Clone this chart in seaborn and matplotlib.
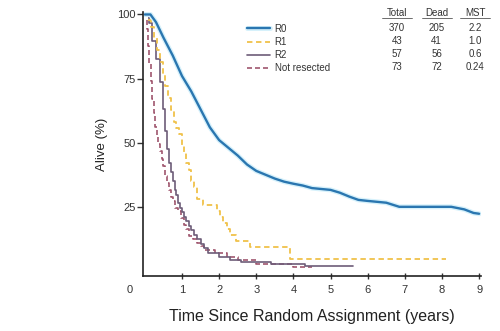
import numpy as np
import pandas as pd
import matplotlib
matplotlib.use("Agg")
import matplotlib.pyplot as plt
import matplotlib.patheffects as pe
import seaborn as sns

# Survival estimates (years, % alive) per resection group
r0_t = [0, 0.15, 0.3, 0.5, 0.75, 1.0, 1.25, 1.5, 1.75, 2.0, 2.25, 2.5, 2.75, 3.0,
        3.25, 3.5, 3.75, 4.0, 4.25, 4.5, 5.0, 5.25, 5.5, 5.75, 6.0, 6.5, 6.85,
        7.5, 8.25, 8.6, 8.85, 9.0]
r0_v = [100, 100, 97, 91, 84, 76, 70, 63, 56, 51, 48, 45, 41.5, 39,
        37.5, 36, 34.8, 34, 33.3, 32.3, 31.6, 30.5, 29, 27.7, 27.3, 26.6, 25,
        25, 25, 24, 22.6, 22.3]

r1_t = [0, 0.08, 0.16, 0.25, 0.33, 0.4, 0.48, 0.55, 0.63, 0.7, 0.78, 0.85, 0.92,
        1.0, 1.05, 1.1, 1.18, 1.25, 1.32, 1.4, 1.56, 1.94, 2.02, 2.1, 2.2,
        2.28, 2.45, 2.55, 2.82, 3.09, 3.9, 8.1]
r1_v = [100, 97.7, 95.3, 90.7, 86.0, 81.4, 76.7, 72.1, 67.4, 62.8, 58.1, 55.8, 53.5,
        48.8, 46.5, 41.9, 39.5, 34.9, 32.6, 27.9, 25.6, 23.3, 20.9, 18.6, 16.3,
        14.0, 11.6, 11.6, 9.3, 9.3, 4.65, 4.65]

r2_t = [0, 0.1, 0.2, 0.3, 0.4, 0.5, 0.55, 0.6, 0.65, 0.7, 0.75, 0.8, 0.85, 0.9,
        0.95, 1.0, 1.05, 1.1, 1.18, 1.25, 1.32, 1.4, 1.5, 1.6, 1.7, 1.8, 2.0,
        2.3, 2.6, 3.0, 3.4, 4.3, 5.6]
r2_v = [100, 96.5, 89.5, 82.5, 73.7, 63.2, 54.4, 47.4, 42.1, 38.6, 35.1, 31.6, 29.8, 26.3,
        24.6, 22.8, 21.1, 19.3, 17.5, 15.8, 14.0, 12.3, 10.5, 8.8, 7.0, 7.0, 5.3,
        4.4, 3.5, 3.5, 2.6, 1.75, 1.75]

nr_t = [0, 0.05, 0.09, 0.12, 0.16, 0.2, 0.24, 0.28, 0.32, 0.35, 0.4, 0.45, 0.5, 0.55,
        0.6, 0.65, 0.7, 0.75, 0.82, 0.9, 0.97, 1.05, 1.12, 1.2, 1.3, 1.4, 1.5,
        1.6, 1.9, 2.2, 2.5, 3.0, 3.6, 4.0, 4.5]
nr_v = [100, 94.5, 87.7, 80.8, 74.0, 67.1, 61.6, 56.2, 52.1, 49.3, 46.6, 43.8, 41.1, 37.0,
        34.2, 31.5, 28.8, 27.4, 24.7, 23.3, 20.5, 17.8, 16.4, 13.7, 12.3, 11.0, 9.6,
        8.2, 6.8, 5.5, 4.1, 2.7, 2.7, 1.4, 1.4]

groups = ["R0", "R1", "R2", "Not resected"]
totals = [370, 43, 57, 73]
deaths = [205, 41, 56, 72]
mst = ["2.2", "1.0", "0.6", "0.24"]

x_ticks = [1, 2, 3, 4, 5, 6, 7, 8, 9]
y_ticks = [25, 50, 75, 100]

series = {
    "R0": (r0_t, r0_v),
    "R1": (r1_t, r1_v),
    "R2": (r2_t, r2_v),
    "Not resected": (nr_t, nr_v),
}
df = pd.concat(
    [pd.DataFrame({"years": t, "alive": v, "group": g}) for g, (t, v) in series.items()],
    ignore_index=True,
)

styles = {
    "R0": dict(color="#2a76b0", lw=1.7, dashes=None, steps=False),
    "R1": dict(color="#f0c24a", lw=1.3, dashes=(3, 2), steps=True),
    "R2": dict(color="#6d5c78", lw=1.2, dashes=None, steps=True),
    "Not resected": dict(color="#a0566e", lw=1.2, dashes=(3, 1.8), steps=True),
}

sns.set_style("ticks")
plt.rcParams["font.family"] = ["Liberation Sans", "DejaVu Sans"]

fig = plt.figure(figsize=(5.0, 3.31), dpi=100)
ax = fig.add_axes([0.286, 0.166, 0.676, 0.798])

# draw the lower curves first so R0 sits on top
for g in ["Not resected", "R2", "R1", "R0"]:
    st = styles[g]
    kw = dict(color=st["color"], linewidth=st["lw"])
    if st["steps"]:
        kw["drawstyle"] = "steps-post"
    if st["dashes"] is not None:
        kw["dashes"] = st["dashes"]
    sns.lineplot(data=df[df["group"] == g], x="years", y="alive", ax=ax,
                 estimator=None, sort=False, label=g, **kw)
    if g == "R0":
        ax.lines[-1].set_path_effects(
            [pe.Stroke(linewidth=3.6, foreground="#d6f1fb"), pe.Normal()])

ax.set_xlim(-0.05, 9.05)
ax.set_ylim(-2, 101)
ax.set_xticks(x_ticks)
ax.set_yticks(y_ticks)
ax.tick_params(axis="x", direction="inout", length=5, width=1, labelsize=8,
               colors="#333333", pad=4)
ax.tick_params(axis="y", direction="out", length=4, width=1, labelsize=8,
               colors="#333333", pad=1)
for s in ["left", "bottom"]:
    ax.spines[s].set_linewidth(1.2)
    ax.spines[s].set_color("#222222")
sns.despine(ax=ax)

ax.text(-0.4, -7.5, "0", ha="center", va="center", fontsize=8, color="#333333")
ax.set_xlabel("Time Since Random Assignment (years)", fontsize=11.5,
              color="#222222", labelpad=10)
ax.set_ylabel("Alive (%)", fontsize=9.5, color="#222222", labelpad=7)

# legend in the order R0, R1, R2, Not resected
handles, labels = ax.get_legend_handles_labels()
order = [labels.index(g) for g in groups]
leg = ax.legend([handles[i] for i in order], [labels[i] for i in order],
                loc="upper left", bbox_to_anchor=(0.493, 0.928),
                bbox_transform=fig.transFigure, frameon=False, fontsize=7,
                handlelength=2.4, handletextpad=0.5, labelspacing=0.33,
                borderpad=0, borderaxespad=0)
for t in leg.get_texts():
    t.set_color("#333333")

# summary table beside the legend
col_x = [0.794, 0.873, 0.950]
headers = ["Total", "Dead", "MST"]
for cx, h in zip(col_x, headers):
    fig.text(cx, 1 - 13 / 331, h, ha="center", va="center", fontsize=7,
             color="#333333")
    fig.add_artist(plt.Line2D([cx - 0.03, cx + 0.03], [1 - 18 / 331] * 2,
                              color="#555555", lw=0.6))
row_y = [28, 41, 54, 67]
for i in range(len(groups)):
    y = 1 - row_y[i] / 331
    for cx, val in zip(col_x, [totals[i], deaths[i], mst[i]]):
        fig.text(cx, y, str(val), ha="center", va="center", fontsize=7,
                 color="#333333")

fig.savefig("out.png", dpi=100)
